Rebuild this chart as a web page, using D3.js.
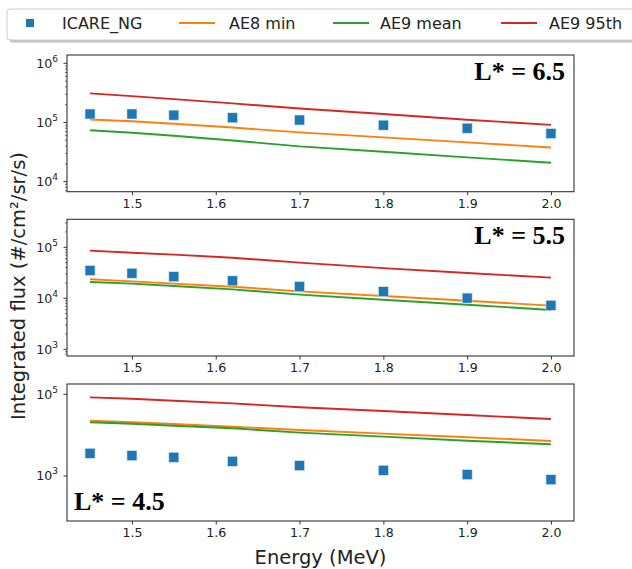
<!DOCTYPE html>
<html>
<head>
<meta charset="utf-8">
<script src="https://cdn.jsdelivr.net/npm/d3@7"></script>
<style>
  html, body { margin: 0; padding: 0; background: #fff; }
  svg { display: block; font-family: "DejaVu Sans", sans-serif; }
</style>
</head>
<body>
<svg id="chart" width="632" height="569"></svg>
<script>
// ---------- data ----------
const energy = [1.45, 1.5, 1.55, 1.62, 1.7, 1.8, 1.9, 2.0];
const xTicks = [1.5, 1.6, 1.7, 1.8, 1.9, 2.0];
const seriesNames = ["ICARE_NG", "AE8 min", "AE9 mean", "AE9 95th"];
const seriesColors = ["#1f77b4", "#ff7f0e", "#2ca02c", "#d62728"];
const panelLabels = ["L* = 6.5", "L* = 5.5", "L* = 4.5"];

// L* = 6.5
const icare65  = [1.39e5, 1.39e5, 1.33e5, 1.2e5, 1.1e5, 9.0e4, 8.0e4, 6.5e4];
const ae8min65 = [1.12e5, 1.05e5, 9.5e4, 8.2e4, 6.8e4, 5.6e4, 4.6e4, 3.78e4];
const ae9mean65 = [7.4e4, 6.7e4, 5.96e4, 4.97e4, 3.94e4, 3.2e4, 2.57e4, 2.09e4];
const ae995th65 = [3.1e5, 2.79e5, 2.48e5, 2.1e5, 1.72e5, 1.39e5, 1.11e5, 9.1e4];
// L* = 5.5
const icare55  = [3.5e4, 3.1e4, 2.65e4, 2.2e4, 1.7e4, 1.35e4, 1.01e4, 7.3e3];
const ae8min55 = [2.36e4, 2.15e4, 1.94e4, 1.69e4, 1.37e4, 1.11e4, 8.97e3, 7.2e3];
const ae9mean55 = [2.09e4, 1.94e4, 1.74e4, 1.5e4, 1.18e4, 9.4e3, 7.5e3, 5.9e3];
const ae995th55 = [8.6e4, 7.8e4, 7.2e4, 6.25e4, 5.0e4, 3.9e4, 3.13e4, 2.54e4];
// L* = 4.5
const icare45  = [3.6e3, 3.14e3, 2.87e3, 2.29e3, 1.79e3, 1.38e3, 1.08e3, 8.1e2];
const ae8min45 = [2.26e4, 2.06e4, 1.87e4, 1.61e4, 1.34e4, 1.09e4, 8.9e3, 7.2e3];
const ae9mean45 = [2.06e4, 1.9e4, 1.7e4, 1.47e4, 1.15e4, 9.2e3, 7.3e3, 5.97e3];
const ae995th45 = [8.4e4, 7.8e4, 6.97e4, 6.0e4, 4.8e4, 3.9e4, 3.1e4, 2.48e4];

// y tick exponents (major) per panel
const yMajor65 = [4, 5, 6];
const yMajor55 = [3, 4, 5];
const yMajor45 = [3, 5];

// ---------- layout ----------
const svg = d3.select("#chart");
const left = 67, right = 574;
const panels = [
  { top: 55,    bottom: 191.7, dom: [3.83, 6.14],  majors: yMajor65, minor: true,
    data: [icare65, ae8min65, ae9mean65, ae995th65], label: panelLabels[0], labelPos: "tr" },
  { top: 219.3, bottom: 356,   dom: [2.869, 5.549], majors: yMajor55, minor: true,
    data: [icare55, ae8min55, ae9mean55, ae995th55], label: panelLabels[1], labelPos: "tr" },
  { top: 384,   bottom: 521,   dom: [1.898, 5.252], majors: yMajor45, minor: false,
    data: [icare45, ae8min45, ae9mean45, ae995th45], label: panelLabels[2], labelPos: "bl" }
];

const x = d3.scaleLinear().domain([1.4225, 2.0275]).range([left, right]);

panels.forEach(p => {
  const y = d3.scaleLog()
    .domain([Math.pow(10, p.dom[0]), Math.pow(10, p.dom[1])])
    .range([p.bottom, p.top]);
  const g = svg.append("g");

  // clip
  const cid = "clip" + Math.round(p.top);
  svg.append("defs").append("clipPath").attr("id", cid)
    .append("rect").attr("x", left).attr("y", p.top)
    .attr("width", right - left).attr("height", p.bottom - p.top);

  // lines
  const line = d3.line().x((d, i) => x(energy[i])).y(d => y(d));
  const plot = g.append("g").attr("clip-path", `url(#${cid})`);
  [1, 2, 3].forEach(k => {
    plot.append("path")
      .datum(p.data[k])
      .attr("d", line)
      .attr("fill", "none")
      .attr("stroke", seriesColors[k])
      .attr("stroke-width", 1.9);
  });
  // squares
  plot.selectAll("rect.sq").data(p.data[0]).enter().append("rect")
    .attr("class", "sq")
    .attr("x", (d, i) => x(energy[i]) - 5)
    .attr("y", d => y(d) - 5)
    .attr("width", 10).attr("height", 10)
    .attr("fill", seriesColors[0])
    .attr("stroke", "#d6e6f2").attr("stroke-width", 0.6);

  // frame
  g.append("rect")
    .attr("x", left).attr("y", p.top)
    .attr("width", right - left).attr("height", p.bottom - p.top)
    .attr("fill", "none").attr("stroke", "#333").attr("stroke-width", 1.1);

  // x axis
  const xa = d3.axisBottom(x).tickValues(xTicks).tickFormat(d3.format(".1f"))
    .tickSize(3.5).tickPadding(4);
  const xg = g.append("g").attr("transform", `translate(0,${p.bottom})`).call(xa);
  xg.select(".domain").remove();
  xg.selectAll("line").attr("stroke", "#333");
  xg.selectAll("text").attr("font-size", "12.6px").attr("fill", "#222")
    .attr("font-family", "DejaVu Sans, sans-serif");

  // y axis: majors
  const yg = g.append("g");
  p.majors.forEach(e => {
    const yy = y(Math.pow(10, e));
    yg.append("line").attr("x1", left - 3.5).attr("x2", left)
      .attr("y1", yy).attr("y2", yy).attr("stroke", "#333").attr("stroke-width", 1);
    const t = yg.append("text").attr("x", left - 9).attr("y", yy + 4.5)
      .attr("text-anchor", "end").attr("fill", "#222").attr("font-size", "12.6px");
    t.append("tspan").text("10");
    t.append("tspan").attr("font-size", "9px").attr("dy", -6).text(String(e));
  });
  if (p.minor) {
    const lo = Math.floor(p.dom[0]), hi = Math.ceil(p.dom[1]);
    for (let e = lo; e < hi; e++) {
      for (let m = 2; m <= 9; m++) {
        const v = m * Math.pow(10, e);
        const lv = Math.log10(v);
        if (lv < p.dom[0] || lv > p.dom[1]) continue;
        const yy = y(v);
        yg.append("line").attr("x1", left - 2).attr("x2", left)
          .attr("y1", yy).attr("y2", yy).attr("stroke", "#333").attr("stroke-width", 0.7);
      }
    }
  }

  // panel label
  const lab = g.append("text")
    .attr("font-family", "Liberation Serif, 'Times New Roman', serif")
    .attr("font-weight", "bold").attr("font-size", "26px").attr("fill", "#000")
    .text(p.label);
  if (p.labelPos === "tr") {
    lab.attr("x", 565).attr("y", p.top + 25).attr("text-anchor", "end");
  } else {
    lab.attr("x", 74).attr("y", p.bottom - 11).attr("text-anchor", "start");
  }
});

// axis titles
svg.append("text")
  .attr("x", 320.5).attr("y", 564)
  .attr("text-anchor", "middle").attr("font-size", "19.5px").attr("fill", "#222")
  .text("Energy (MeV)");
svg.append("text")
  .attr("transform", "translate(25,286) rotate(-90)")
  .attr("text-anchor", "middle").attr("font-size", "19.5px").attr("fill", "#222")
  .text("Integrated flux (#/cm²/sr/s)");

// legend
const lg = svg.append("g");
lg.append("rect").attr("x", 9.5).attr("y", 11.5).attr("width", 660).attr("height", 31)
  .attr("rx", 3).attr("fill", "#999").attr("opacity", 0.6);
lg.append("rect").attr("x", 7).attr("y", 9).attr("width", 660).attr("height", 31)
  .attr("rx", 3).attr("fill", "#fff").attr("stroke", "#ccc").attr("stroke-width", 1);
const legendX = [30, 179, 333, 501];
const legendTextX = [62, 229, 380, 549];
seriesNames.forEach((name, i) => {
  if (i === 0) {
    lg.append("rect").attr("x", legendX[i] - 4).attr("y", 19).attr("width", 8).attr("height", 8)
      .attr("fill", seriesColors[i]);
  } else {
    lg.append("line").attr("x1", legendX[i]).attr("x2", legendX[i] + 36)
      .attr("y1", 23).attr("y2", 23)
      .attr("stroke", seriesColors[i]).attr("stroke-width", 1.9);
  }
  lg.append("text").attr("x", legendTextX[i]).attr("y", 28.5)
    .attr("font-size", "16px").attr("fill", "#222").text(name);
});
</script>
</body>
</html>
